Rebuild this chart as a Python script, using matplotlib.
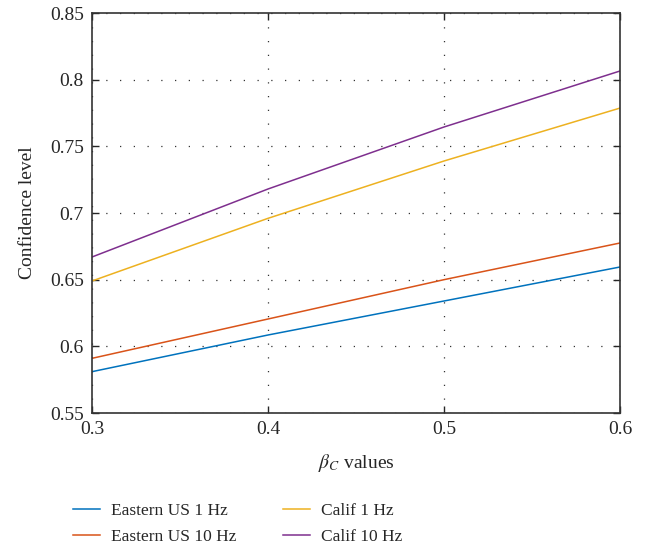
import numpy as np
import matplotlib
matplotlib.use("Agg")
import matplotlib.pyplot as plt

plt.rcParams['font.family'] = ['Liberation Serif', 'DejaVu Serif']
plt.rcParams['mathtext.fontset'] = 'stix'

# beta_C values and confidence levels per site / frequency
beta_c = [0.3, 0.4, 0.5, 0.6]
eastern_1hz = [0.581, 0.6085, 0.634, 0.6595]
eastern_10hz = [0.591, 0.6205, 0.650, 0.6775]
calif_1hz = [0.649, 0.696, 0.739, 0.7787]
calif_10hz = [0.667, 0.718, 0.7645, 0.8065]

series = [
    ("Eastern US 1 Hz", eastern_1hz, "#0072BD"),
    ("Eastern US 10 Hz", eastern_10hz, "#D95319"),
    ("Calif 1 Hz", calif_1hz, "#EDB120"),
    ("Calif 10 Hz", calif_10hz, "#7E2F8E"),
]

fig = plt.figure(figsize=(6.56, 5.49), dpi=100)
ax = fig.add_axes([92 / 656, 136 / 549, 528 / 656, 400 / 549])

for name, vals, col in series:
    ax.plot(beta_c, vals, color=col, lw=1.1, label=name)

ax.set_xlim(0.3, 0.6)
ax.set_ylim(0.55, 0.85)
ax.set_xticks([0.3, 0.4, 0.5, 0.6])
ax.set_xticklabels(["0.3", "0.4", "0.5", "0.6"])
ax.set_yticks([0.55, 0.6, 0.65, 0.7, 0.75, 0.8, 0.85])
ax.set_yticklabels(["0.55", "0.6", "0.65", "0.7", "0.75", "0.8", "0.85"])
ax.grid(True, linestyle=(0, (1, 10)), color='#333333', lw=0.9)
ax.tick_params(direction='in', top=True, right=True, length=5, width=1,
               labelsize=14, colors='#262626', pad=6)
for s in ax.spines.values():
    s.set_color('#333333')
    s.set_linewidth(1.2)

ax.set_xlabel(r"$\beta_C$ values", fontsize=14, color='#262626', labelpad=10)
ax.set_ylabel("Confidence level", fontsize=14, color='#262626', labelpad=10)

ax.legend(loc='upper left', bbox_to_anchor=(73 / 656, 1 - 503 / 549),
          bbox_transform=fig.transFigure, ncol=2, frameon=False,
          borderpad=0, borderaxespad=0,
          fontsize=12.5, handlelength=1.55, handletextpad=0.63, columnspacing=2.7,
          labelspacing=0.55, labelcolor='#262626')

fig.savefig("out.png", dpi=100)
